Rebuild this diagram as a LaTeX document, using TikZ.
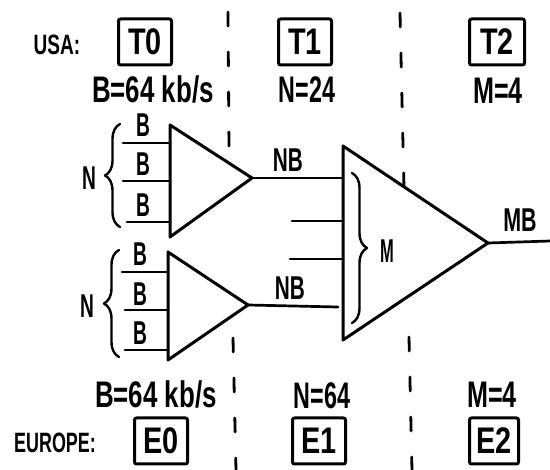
\documentclass[tikz,border=0pt]{standalone}
\usepackage{fontspec}
\setmainfont{Liberation Sans}
\usepackage{graphicx}
\usetikzlibrary{decorations.pathreplacing}
% narrow, hand-lettered look: squeeze text horizontally
\newcommand{\hw}[2][0.8]{\scalebox{#1}[1]{#2}}

\begin{document}
\begin{tikzpicture}[x=1pt, y=-1pt, line cap=round, line join=round,
  ink/.style={line width=3pt},
  wire/.style={line width=2.7pt},
  big/.style={inner sep=0pt, font=\fontsize{37}{38}\selectfont\bfseries},
  tag/.style={inner sep=0pt, font=\fontsize{33}{34}\selectfont\bfseries},
  region/.style={inner sep=0pt, font=\fontsize{28}{29}\selectfont\bfseries},
  site/.style={draw, line width=3pt, rounded corners=2pt, inner sep=0pt,
    minimum width=53pt, minimum height=46pt, font=\fontsize{37}{38}\selectfont\bfseries},
  sep/.style={line width=2.8pt, dash pattern=on 14pt off 26pt},
  bus/.style={decorate, decoration={brace, amplitude=15pt}, line width=2.4pt}
]
\useasboundingbox (0,0) rectangle (550,470);

% ---------- USA side ----------
\node[region] (usa) at (57,45) {\hw[0.68]{USA:}};
\node[site] (t0) at (145,42) {\hw[0.78]{T0}};
\node[site] (t1) at (305,42) {\hw[0.78]{T1}};
\node[site, minimum width=55pt] (t2) at (497,42) {\hw[0.78]{T2}};
\node[big] (rateT) at (153,89) {\hw[0.7]{B=64 kb/s}};
\node[big] (nT) at (307,90) {\hw[0.63]{N=24}};
\node[big] (mT) at (498,91) {\hw[0.68]{M=4}};

% ---------- Europe side ----------
\node[region] (eu) at (55,443) {\hw[0.64]{EUROPE:}};
\node[site] (e0) at (161,441) {\hw[0.78]{E0}};
\node[site] (e1) at (319,441) {\hw[0.78]{E1}};
\node[site, minimum width=49pt] (e2) at (494,441) {\hw[0.78]{E2}};
\node[big] (rateE) at (156,394) {\hw[0.7]{B=64 kb/s}};
\node[big] (nE) at (322,396) {\hw[0.63]{N=64}};
\node[big] (mE) at (492,395) {\hw[0.68]{M=4}};

% ---------- stage separators ----------
\draw[sep] (228,12) -- (229,148);
\draw[sep] (233,338) -- (236,470);
\draw[sep] (400,13) -- (404,188);
\draw[sep] (409,337) -- (412,470);

% ---------- first-level multiplexers ----------
\coordinate (ua) at (170,125);
\coordinate (ub) at (170,237);
\coordinate (uo) at (252,178);
\draw[ink] (ua) -- (uo) -- (ub) -- cycle;

\coordinate (la) at (168,252);
\coordinate (lb) at (168,360);
\coordinate (lo) at (248,305);
\draw[ink] (la) -- (lo) -- (lb) -- cycle;

% channel inputs, upper mux
\coordinate (ui1) at (123,143);
\coordinate (ui2) at (123,181);
\coordinate (ui3) at (127,222);
\draw[wire] (ui1) -- (ui1 -| ua);
\draw[wire] (ui2) -- (ui2 -| ua);
\draw[wire] (ui3) -- (ui3 -| ua);
\node[tag] (ub1) at (143,125) {\hw[0.58]{B}};
\node[tag] (ub2) at (143,164) {\hw[0.58]{B}};
\node[tag] (ub3) at (143,205) {\hw[0.58]{B}};
\draw[bus] (120,227) -- (120,124);
\node[tag] (un) at (89,178) {\hw[0.58]{N}};

% channel inputs, lower mux
\coordinate (li1) at (122,272);
\coordinate (li2) at (125,310);
\coordinate (li3) at (125,350);
\draw[wire] (li1) -- (li1 -| la);
\draw[wire] (li2) -- (li2 -| la);
\draw[wire] (li3) -- (li3 -| la);
\node[tag] (lb1) at (140,254) {\hw[0.58]{B}};
\node[tag] (lb2) at (140,294) {\hw[0.58]{B}};
\node[tag] (lb3) at (140,333) {\hw[0.58]{B}};
\draw[bus] (119,357) -- (119,250);
\node[tag] (ln) at (87,306) {\hw[0.58]{N}};

% ---------- second-level multiplexer ----------
\coordinate (ma) at (343,146);
\coordinate (mb) at (343,340);
\coordinate (mo) at (488,243);
\draw[ink] (ma) -- (mo) -- (mb) -- cycle;

\draw[wire] (uo) -- (uo -| ma);
\coordinate (mi2) at (292,221);
\coordinate (mi3) at (290,259);
\draw[wire] (mi2) -- (mi2 -| ma);
\draw[wire] (mi3) -- (mi3 -| ma);
\coordinate (mi4) at (338,307);
\draw[wire] (lo) -- (mi4);
\node[tag] (nbU) at (288,160) {\hw[0.63]{NB}};
\node[tag] (nbL) at (290,288) {\hw[0.63]{NB}};

\draw[bus] (352,173) -- (352,323);
\node[tag] (mm) at (387,251) {\hw[0.5]{M}};

% trunk output
\coordinate (trunk) at (550,241);
\draw[wire] (mo) -- (trunk);
\node[tag] (mbl) at (520,220) {\hw[0.65]{MB}};
\end{tikzpicture}
\end{document}
